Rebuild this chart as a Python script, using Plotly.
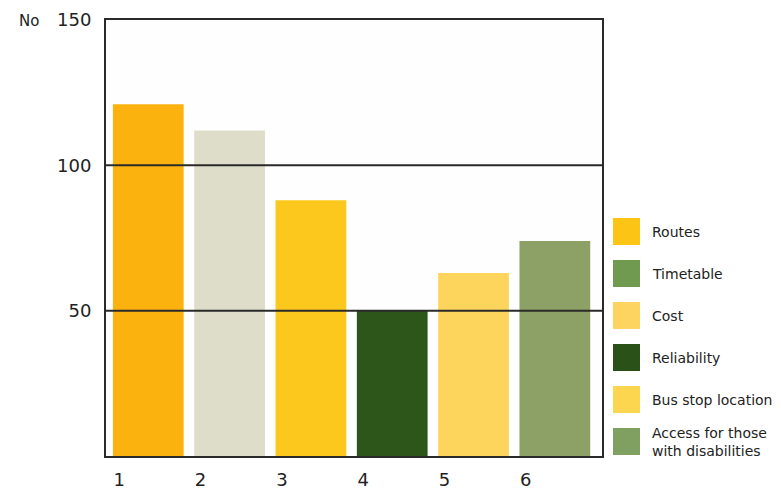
import plotly.graph_objects as go

# ---- data ----
categories = [1, 2, 3, 4, 5, 6]
values = [121, 112, 88, 50, 63, 74]
bar_colors = ["#FBB20F", "#DDDDC9", "#FCC81E", "#2D561A", "#FDD55C", "#8DA065"]
legend_labels = ["Routes", "Timetable", "Cost", "Reliability",
                 "Bus stop location", "Access for those<br>with disabilities"]
legend_colors = ["#FCC516", "#6F9A50", "#FDD45F", "#2A5218", "#FDD650", "#80A062"]
y_ticks = [50, 100, 150]

# page has an 8px body margin; target plot area on screen: x 106..602, y 20..456
W, H = 781, 489
OFF = 8
PX0, PX1, PY0, PY1 = 106, 602, 20, 456
L, T = PX0 - OFF, PY0 - OFF
R = W + OFF - PX1
B = H + OFF - PY1
pw, ph = PX1 - PX0, PY1 - PY0

FONT = "DejaVu Sans"
TXT = "#222222"
LINE = "#2a2a2a"

fig = go.Figure()
fig.add_trace(go.Bar(
    x=categories, y=values, width=0.87,
    marker=dict(color=bar_colors, line=dict(width=0)),
    showlegend=False,
))

def px_x(sx):
    return (sx - PX0) / pw

def px_y(sy):
    return (PY1 - sy) / ph

shapes = []
annotations = []

# grid lines drawn above the bars, as in the reference
for v in y_ticks[:-1]:
    shapes.append(dict(type="line", xref="paper", yref="y", x0=0, x1=1, y0=v, y1=v,
                       layer="above", line=dict(color=LINE, width=2)))

top0, pitch, sw = 218, 42, 27
for i, (lab, col) in enumerate(zip(legend_labels, legend_colors)):
    y0 = top0 + i * pitch
    shapes.append(dict(type="rect", xref="paper", yref="paper",
                       x0=px_x(613), x1=px_x(613 + sw),
                       y0=px_y(y0 + sw), y1=px_y(y0),
                       fillcolor=col, line=dict(width=0)))
    annotations.append(dict(xref="paper", yref="paper", x=px_x(650), y=px_y(y0 + sw / 2),
                            text=lab, showarrow=False, xanchor="left", yanchor="middle",
                            align="left",
                            font=dict(family=FONT, size=14, color=TXT)))

annotations.append(dict(xref="paper", yref="paper", x=px_x(17), y=px_y(21),
                        text="No", showarrow=False, xanchor="left", yanchor="middle",
                        font=dict(family=FONT, size=15, color=TXT)))

fig.update_layout(
    width=W, height=H,
    margin=dict(l=L, r=R, t=T, b=B),
    paper_bgcolor="white", plot_bgcolor="#FEFEFE",
    shapes=shapes, annotations=annotations,
)
fig.update_xaxes(
    range=[0.48, 6.58], tickvals=categories, ticktext=[str(c) for c in categories],
    showgrid=False, zeroline=False, showline=True, linecolor=LINE, linewidth=2,
    mirror=True, ticks="", ticklabelshift=-29, ticklabelstandoff=6, automargin=False,
    tickfont=dict(family=FONT, size=18, color=TXT),
)
fig.update_yaxes(
    range=[0, 150], tickvals=y_ticks, showgrid=False,
    zeroline=False, showline=True, linecolor=LINE, linewidth=2, mirror=True,
    ticks="", ticklabelstandoff=9, automargin=False,
    tickfont=dict(family=FONT, size=18, color=TXT),
)

fig.write_html("out.html")
